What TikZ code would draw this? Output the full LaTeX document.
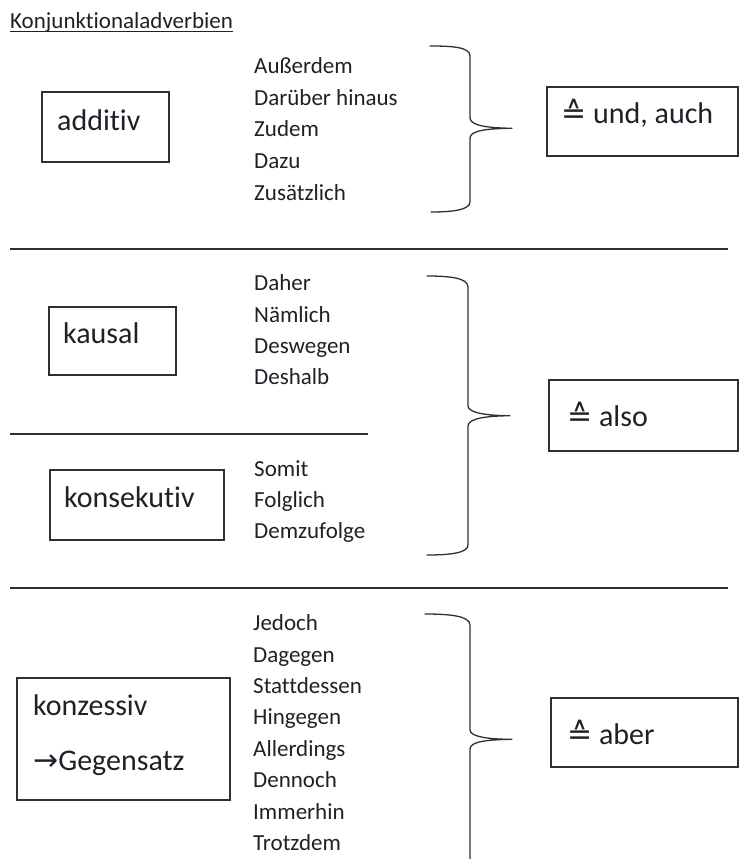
\documentclass[tikz,border=0pt]{standalone}
\usepackage{fontspec}
\setmainfont[Ligatures=NoCommon]{Carlito}
\newfontfamily\symbolfont{DejaVu Sans}
\definecolor{inkgray}{RGB}{30,34,40}
\definecolor{boxgray}{RGB}{45,48,52}

\begin{document}
\begin{tikzpicture}[x=1pt,y=-1pt]
    % Define the styles for the boxes, labels, words and lines
    \tikzstyle{catbox}=[rectangle, draw=boxgray, line width=1.4pt, inner sep=0pt]
    \tikzstyle{catlabel}=[anchor=base west, inner sep=0pt, text=inkgray, font=\fontsize{30}{36}\selectfont]
    \tikzstyle{wordtext}=[anchor=base west, inner sep=0pt, text=inkgray, font=\fontsize{23}{28}\selectfont]
    \tikzstyle{titletext}=[anchor=base west, inner sep=0pt, text=inkgray, font=\fontsize{23}{28}\selectfont]
    \tikzstyle{rule}=[draw=boxgray, line width=1.5pt]
    \tikzstyle{brace}=[draw=boxgray, line width=1.3pt, line join=round, line cap=round]

    \useasboundingbox (0,0) rectangle (739,859);

    % Draw the title
    \node[titletext] (title) at (10,28.3) {Konjunktionaladverbien};
    \draw[inkgray, line width=1pt] ([yshift=-3.6pt]title.base west) -- ([yshift=-3.6pt]title.base east);

    % Draw the category boxes
    \node[catbox, minimum width=127pt, minimum height=70pt] (additivbox) at (105.5,127) {};
    \node[catlabel] (additiv) at (57,130) {additiv};
    \node[catbox, minimum width=127pt, minimum height=68pt] (kausalbox) at (112.5,341) {};
    \node[catlabel] (kausal) at (63,343) {kausal};
    \node[catbox, minimum width=174pt, minimum height=70pt] (konsekutivbox) at (137,505) {};
    \node[catlabel] (konsekutiv) at (64,507) {konsekutiv};
    \node[catbox, minimum width=213pt, minimum height=122pt] (konzessivbox) at (123.5,739) {};
    \node[catlabel] (konzessiv) at (33,715) {konzessiv};
    \node[catlabel] (gegensatz) at (33,770) {{\symbolfont →}Gegensatz};

    % Draw the words
    \node[wordtext] (ausserdem) at (254,73.5) {Außerdem};
    \node[wordtext] (darueber) at (254,105) {Darüber hinaus};
    \node[wordtext] (zudem) at (254,136.7) {Zudem};
    \node[wordtext] (dazu) at (254,168.3) {Dazu};
    \node[wordtext] (zusaetzlich) at (254,200) {Zusätzlich};

    \node[wordtext] (daher) at (254,290.7) {Daher};
    \node[wordtext] (naemlich) at (254,322) {Nämlich};
    \node[wordtext] (deswegen) at (254,353.4) {Deswegen};
    \node[wordtext] (deshalb) at (254,384.8) {Deshalb};

    \node[wordtext] (somit) at (254,476.7) {Somit};
    \node[wordtext] (folglich) at (254,507.5) {Folglich};
    \node[wordtext] (demzufolge) at (254,538) {Demzufolge};

    \node[wordtext] (jedoch) at (253,630.7) {Jedoch};
    \node[wordtext] (dagegen) at (253,662) {Dagegen};
    \node[wordtext] (stattdessen) at (253,693.4) {Stattdessen};
    \node[wordtext] (hingegen) at (253,724.8) {Hingegen};
    \node[wordtext] (allerdings) at (253,756.2) {Allerdings};
    \node[wordtext] (dennoch) at (253,787.6) {Dennoch};
    \node[wordtext] (immerhin) at (253,819) {Immerhin};
    \node[wordtext] (trotzdem) at (253,850.4) {Trotzdem};

    % Draw the braces
    \draw[brace] (430,46) .. controls (452,46) and (470,47) .. (470,56)
        -- (470,118) .. controls (470,126) and (490,128) .. (512,128.3)
        .. controls (490,128.5) and (470,130) .. (470,138)
        -- (470,202) .. controls (470,210) and (452,212) .. (431,212);
    \draw[brace] (427,276) .. controls (450,276) and (468,278) .. (468,287)
        -- (468,406) .. controls (468,413) and (488,415.7) .. (510,415.7)
        .. controls (488,416) and (468,418) .. (468,426)
        -- (468,545) .. controls (468,553) and (450,555) .. (427,555);
    \draw[brace] (425,614) .. controls (450,614) and (470,616) .. (470,625)
        -- (470,730) .. controls (470,737) and (490,739.3) .. (512,739.3)
        .. controls (490,739.6) and (470,741) .. (470,749)
        -- (470,862);

    % Draw the result boxes
    \node[catbox, minimum width=191pt, minimum height=69pt] (undbox) at (642.5,121.5) {};
    \node[catlabel] (und) at (561,123) {{\symbolfont ≙} und, auch};
    \node[catbox, minimum width=189pt, minimum height=71pt] (alsobox) at (643.5,415.5) {};
    \node[catlabel] (also) at (567,426) {{\symbolfont ≙} also};
    \node[catbox, minimum width=187pt, minimum height=69pt] (aberbox) at (644.5,732.5) {};
    \node[catlabel] (aber) at (567,744) {{\symbolfont ≙} aber};

    % Draw the separating lines
    \draw[rule] (10,249) -- (728,249);
    \draw[rule] (10,434) -- (368,434);
    \draw[rule] (10,588) -- (728,588);
\end{tikzpicture}
\end{document}
